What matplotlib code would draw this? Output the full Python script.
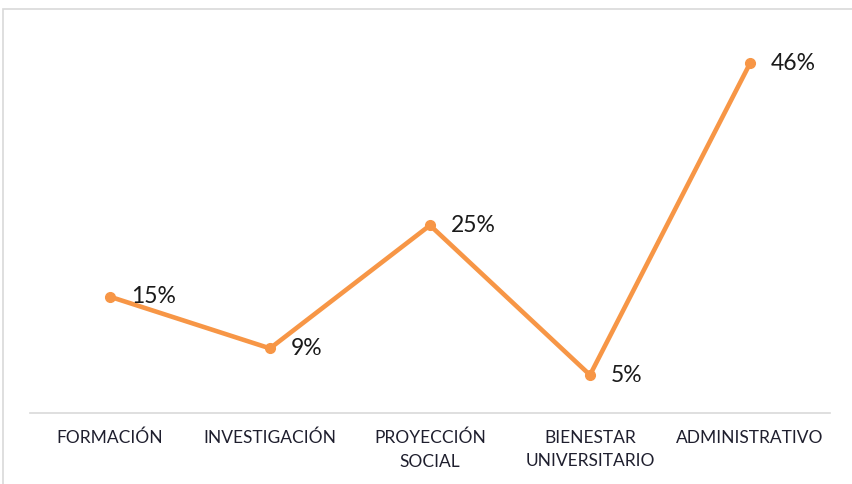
import matplotlib
matplotlib.use("Agg")
import matplotlib.pyplot as plt
from matplotlib.patches import Rectangle

categories = ["FORMACIÓN", "INVESTIGACIÓN", "PROYECCIÓN\nSOCIAL", "BIENESTAR\nUNIVERSITARIO", "ADMINISTRATIVO"]
values = [15.3, 8.5, 24.7, 5.0, 46.0]
labels = ["15%", "9%", "25%", "5%", "46%"]

W, H = 852, 484
fig = plt.figure(figsize=(W / 100, H / 100), dpi=100)
fig.patch.set_facecolor("white")

# outer chart frame (only top/left visible)
fig.patches.append(Rectangle((2.5 / W, -0.1), 1.2, (H - 9) / H + 0.1, transform=fig.transFigure,
                             fill=False, edgecolor="#d9d9d9", linewidth=1.2))

ax_left, ax_right, ax_bottom, ax_top = 30, 830, 413, 33
ax = fig.add_axes([ax_left / W, (H - ax_bottom) / H, (ax_right - ax_left) / W, (ax_bottom - ax_top) / H])
ax.set_xlim(-0.5, len(categories) - 0.5)
ax.set_ylim(0, 50)

color = "#F79646"
x = list(range(len(categories)))
ax.plot(x, values, color=color, linewidth=3.3, marker="o", markersize=7, solid_capstyle="round",
        solid_joinstyle="round", zorder=3)

font = "Lato"
for xi, v, lab in zip(x, values, labels):
    ax.annotate(lab, (xi, v), xytext=(15, 0), textcoords="offset points", ha="left", va="center",
                fontsize=16.5, color="#1a1a1a", family=font)

for s in ["top", "right", "left"]:
    ax.spines[s].set_visible(False)
ax.spines["bottom"].set_color("#d9d9d9")
ax.spines["bottom"].set_linewidth(1.2)
ax.set_yticks([])
ax.set_xticks(x)
ax.set_xticklabels(categories, fontsize=12.5, color="#1f1f2e", family=font, linespacing=1.6)
ax.tick_params(axis="x", length=0, pad=12)

fig.savefig("out.png", dpi=100, facecolor="white")
